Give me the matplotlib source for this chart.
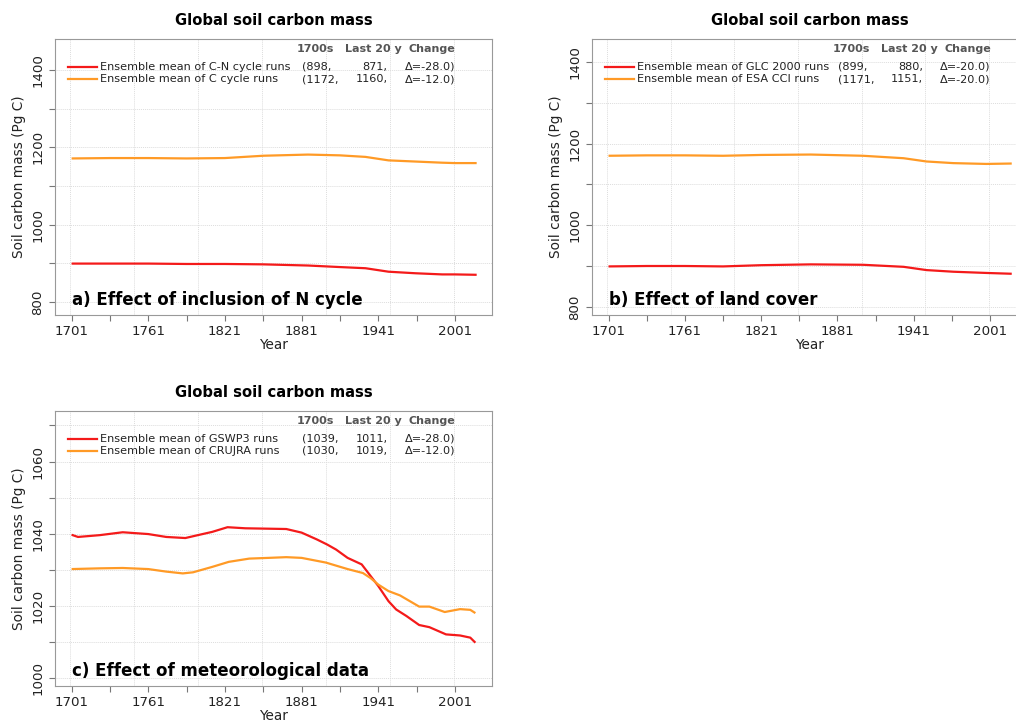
import numpy as np
import matplotlib
matplotlib.use("Agg")
import matplotlib.pyplot as plt

# ---- data ----
title = "Global soil carbon mass"
header = ["1700s", "Last 20 y", "Change"]

years_a = [1701, 1731, 1761, 1791, 1821, 1851, 1886, 1911, 1931, 1949, 1970, 1991, 2001, 2018]
cn_runs = [899, 899, 899, 898, 898, 897, 894, 890, 887, 878, 874, 871, 871, 870]
c_runs = [1171, 1172, 1172, 1171, 1172, 1178, 1181, 1179, 1175, 1166, 1163, 1160, 1159, 1159]
names_a = ["Ensemble mean of C-N cycle runs", "Ensemble mean of C cycle runs"]
stats_a = [("(898,", "871,", "Δ=-28.0)"), ("(1172,", "1160,", "Δ=-12.0)")]

years_b = [1701, 1731, 1761, 1791, 1821, 1860, 1901, 1933, 1951, 1972, 1998, 2018]
glc_runs = [899, 900, 900, 899, 902, 904, 903, 898, 890, 886, 883, 881]
esa_runs = [1170, 1171, 1171, 1170, 1172, 1173, 1170, 1164, 1156, 1152, 1150, 1151]
names_b = ["Ensemble mean of GLC 2000 runs", "Ensemble mean of ESA CCI runs"]
stats_b = [("(899,", "880,", "Δ=-20.0)"), ("(1171,", "1151,", "Δ=-20.0)")]

years_gswp = [1701, 1706, 1723, 1741, 1761, 1775, 1790, 1801, 1811, 1823, 1837, 1853, 1869, 1881,
              1893, 1901, 1908, 1917, 1928, 1933, 1941, 1949, 1955, 1963, 1973, 1981, 1994, 2005, 2013, 2017]
gswp3 = [1039.7, 1039.1, 1039.6, 1040.4, 1039.9, 1039.1, 1038.8, 1039.7, 1040.5, 1041.8, 1041.5, 1041.4,
         1041.3, 1040.3, 1038.4, 1037.0, 1035.6, 1033.3, 1031.5, 1029.2, 1025.5, 1021.3, 1019.0, 1017.2,
         1014.7, 1014.1, 1012.1, 1011.8, 1011.2, 1009.8]
years_cru = [1701, 1723, 1741, 1761, 1775, 1788, 1796, 1811, 1824, 1840, 1855, 1869, 1881, 1900,
             1917, 1929, 1935, 1941, 1949, 1958, 1973, 1981, 1993, 2005, 2013, 2017]
crujra = [1030.2, 1030.4, 1030.5, 1030.2, 1029.5, 1029.0, 1029.3, 1030.8, 1032.2, 1033.1, 1033.3, 1033.5,
          1033.3, 1032.0, 1030.2, 1029.1, 1027.7, 1025.9, 1024.1, 1022.9, 1019.8, 1019.8, 1018.3, 1019.1,
          1018.9, 1018.0]
names_c = ["Ensemble mean of GSWP3 runs", "Ensemble mean of CRUJRA runs"]
stats_c = [("(1039,", "1011,", "Δ=-28.0)"), ("(1030,", "1019,", "Δ=-12.0)")]

RED = "#f41a1a"
ORANGE = "#ff9a26"
W, H = 1016, 722


def panel(rect, series, names, stats, label, ylim, ymajor, yminor, ygrid):
  l, t, r, b = rect
  ax = fig.add_axes([l / W, 1 - b / H, (r - l) / W, (b - t) / H])
  for (x, y), c in zip(series, [RED, ORANGE]):
    ax.plot(x, y, color=c, lw=1.6, solid_capstyle="butt")
  ax.set_xlim(1688, 2030)
  ax.set_ylim(*ylim)
  for gx in range(1700, 2001, 50):
    ax.axvline(gx, color="#dddddd", lw=0.7, ls=(0, (1, 1)), zorder=0)
  for gy in ygrid:
    ax.axhline(gy, color="#dddddd", lw=0.7, ls=(0, (1, 1)), zorder=0)
  ax.set_xticks(range(1701, 2002, 60))
  ax.set_xticks(range(1731, 2030, 60), minor=True)
  ax.set_yticks(ymajor)
  ax.set_yticks(yminor, minor=True)
  ax.tick_params(which="both", colors="#777777", labelcolor="#222222", labelsize=9.6, length=4, width=0.8)
  for t_ in ax.get_yticklabels():
    t_.set_rotation(90)
    t_.set_va("center")
  for s in ax.spines.values():
    s.set_color("#999999")
  ax.set_xlabel("Year", fontsize=9.8, color="#222222", labelpad=0)
  ax.set_ylabel("Soil carbon mass (Pg C)", fontsize=9.8, color="#222222", labelpad=4)
  ax.set_title(title, fontsize=10.6, fontweight="bold", pad=10)
  # legend with statistics columns
  hdr = dict(transform=ax.transAxes, fontsize=8, fontweight="bold", color="#555555", va="center")
  ax.text(0.554, 0.962, header[0], ha="left", **hdr)
  ax.text(0.729, 0.962, header[1], ha="center", **hdr)
  ax.text(0.863, 0.962, header[2], ha="center", **hdr)
  for i, (nm, st, c) in enumerate(zip(names, stats, [RED, ORANGE])):
    yy = 0.899 - i * 0.044
    ax.plot([0.03, 0.097], [yy, yy], color=c, lw=1.6, transform=ax.transAxes, clip_on=False)
    kw = dict(transform=ax.transAxes, fontsize=8.1, color="#222222", va="center")
    ax.text(0.103, yy, nm, **kw)
    ax.text(0.566, yy, st[0], **kw)
    ax.text(0.761, yy, st[1], ha="right", **kw)
    ax.text(0.917, yy, st[2], ha="right", **kw)
  ax.text(0.039, 0.038, label, transform=ax.transAxes, fontsize=12, fontweight="bold",
          va="baseline", ha="left")
  return ax


fig = plt.figure(figsize=(W / 100, H / 100), dpi=100)

panel((55, 39, 492, 315), [(years_a, cn_runs), (years_a, c_runs)], names_a, stats_a,
      "a) Effect of inclusion of N cycle", (766, 1480), range(800, 1401, 200),
      range(900, 1400, 200), range(800, 1401, 100))
panel((592, 39, 1027, 315), [(years_b, glc_runs), (years_b, esa_runs)], names_b, stats_b,
      "b) Effect of land cover", (780, 1456), range(800, 1401, 200),
      range(900, 1400, 200), range(800, 1401, 100))
panel((55, 411, 492, 686), [(years_gswp, gswp3), (years_cru, crujra)], names_c, stats_c,
      "c) Effect of meteorological data", (997.8, 1074), range(1000, 1061, 20),
      range(1010, 1071, 20), range(1000, 1071, 10))

fig.savefig("out.png", dpi=100)
